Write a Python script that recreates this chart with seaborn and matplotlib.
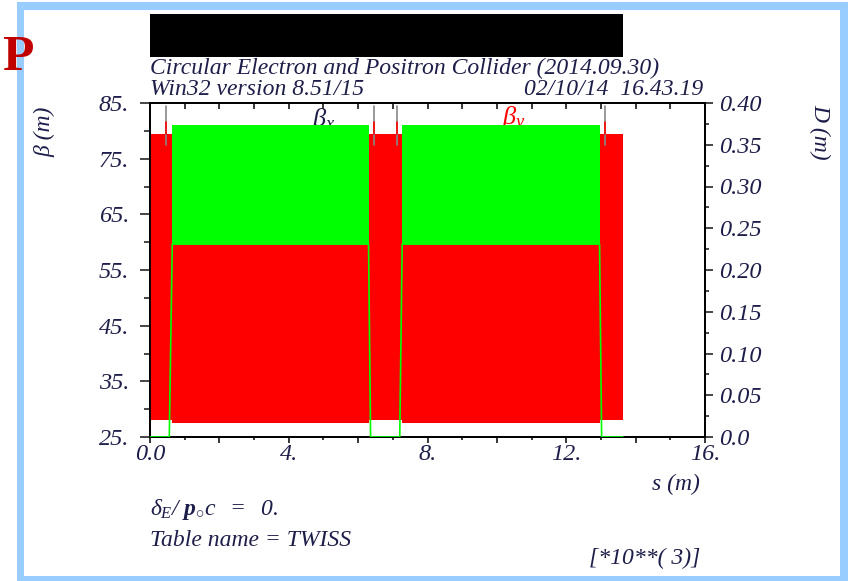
import matplotlib
matplotlib.use("Agg")
import matplotlib.pyplot as plt
import seaborn as sns
import pandas as pd
from matplotlib.patches import Rectangle

# ---------------- data (s in units of 10**3 m) ----------------
seg_start = [0.0, 0.634, 6.32, 7.26, 12.97]
seg_end = [0.634, 6.32, 7.26, 12.97, 13.63]
beta_min = [28.0, 27.5, 28.0, 27.5, 28.0]
beta_max = [79.4, 59.7, 79.4, 59.7, 79.4]
disp_min = [0.0, 0.22, 0.0, 0.22, 0.0]
disp_max = [0.0, 0.374, 0.0, 0.374, 0.0]
d_s = [0.0, 0.556, 0.642, 6.30, 6.36, 7.20, 7.27, 12.96, 13.02, 13.63]
d_val = [0.0, 0.0, 0.231, 0.231, 0.0, 0.0, 0.231, 0.231, 0.0, 0.0]
marker_s = [0.46, 6.45, 7.11, 13.13]
marker_top = [84.4, 84.4, 84.4, 84.4]
marker_bot = [77.5, 77.5, 77.5, 77.5]

beta_ticks = [85, 75, 65, 55, 45, 35, 25]
beta_labels = ["85.", "75.", "65.", "55.", "45.", "35.", "25."]
d_ticks = [0.40, 0.35, 0.30, 0.25, 0.20, 0.15, 0.10, 0.05, 0.0]
d_labels = ["0.40", "0.35", "0.30", "0.25", "0.20", "0.15", "0.10", "0.05", "0.0"]
s_ticks = [0, 2, 4, 6, 8, 10, 12, 14, 16]
s_labels = ["0.0", "", "4.", "", "8.", "", "12.", "", "16."]

W, H = 848, 581
TXT = "#1e1e4a"
RED = "#ff0000"
GREEN = "#00ff00"
FS = 17
TFS = 17.5

sns.set_style("ticks")
plt.rcParams["font.family"] = ["Liberation Serif", "DejaVu Serif"]
plt.rcParams["font.style"] = "italic"
plt.rcParams["mathtext.fontset"] = "custom"
plt.rcParams["mathtext.rm"] = "Liberation Serif:italic"
plt.rcParams["mathtext.it"] = "Liberation Serif:italic"
plt.rcParams["mathtext.bf"] = "Liberation Serif:italic:bold"

fig = plt.figure(figsize=(W / 100, H / 100), dpi=100)
fig.patch.set_facecolor("white")


def fx(x):
    return x / W


def fy(y):
    return 1 - y / H


ax = fig.add_axes([fx(150), fy(437), fx(705) - fx(150), fy(103) - fy(437)])
ax2 = ax.twinx()
ax.set_zorder(ax2.get_zorder() + 1)
ax.patch.set_visible(False)

# legend-like curve names, drawn below the green envelope
ax2.text(5.0, 80.9, r"$\mathrm{\beta}_x$", color=TXT, fontsize=19, ha="center",
         va="baseline", zorder=0.5, transform=ax.transData)
ax2.text(10.5, 80.9, r"$\mathrm{\beta}_y$", color=RED, fontsize=19, ha="center",
         va="baseline", zorder=0.5, transform=ax.transData)

# dispersion envelope (green) on the D axis
for a, b, lo, hi in zip(seg_start, seg_end, disp_min, disp_max):
    if hi > lo:
        ax2.fill_between([a, b], [lo, lo], [hi, hi], color=GREEN, lw=0, zorder=1)

# beta envelope (red)
for a, b, lo, hi in zip(seg_start, seg_end, beta_min, beta_max):
    ax.fill_between([a, b], [lo, lo], [hi, hi], color=RED, lw=0, zorder=2)

# dispersion line (transitions / straight sections)
dfd = pd.DataFrame({"s": d_s, "D": d_val})
sns.lineplot(data=dfd, x="s", y="D", ax=ax, color=GREEN, lw=1.2,
             transform=ax2.transData, zorder=3, sort=False)

# small markers at the top
for s, t, b in zip(marker_s, marker_top, marker_bot):
    ax.plot([s, s], [b, t], color="#888888", lw=1.2, zorder=4)
    ax.plot([s, s], [79.4, 81.5], color=RED, lw=1.2, zorder=5)

ax.set_xlim(0, 16)
ax.set_ylim(25, 85)
ax2.set_ylim(0, 0.40)
ax.set_xlabel("")
ax.set_ylabel("")

ax.set_yticks(beta_ticks)
ax.set_yticklabels(beta_labels)
ax.set_yticks([80, 70, 60, 50, 40, 30], minor=True)
ax.set_xticks(s_ticks)
ax.set_xticklabels(s_labels)
ax.set_xticks(list(range(0, 17)), minor=True)
ax2.set_yticks(d_ticks)
ax2.set_yticklabels(d_labels)
ax2.set_yticks([0.375, 0.325, 0.275, 0.225, 0.175, 0.125, 0.075, 0.025], minor=True)

for a in (ax, ax2):
    for sp in a.spines.values():
        sp.set_visible(True)
        sp.set_color("black")
        sp.set_linewidth(1.3)

ax.tick_params(axis="y", which="major", direction="out", length=7, width=1.2,
               pad=8, labelsize=TFS, labelcolor=TXT)
ax.tick_params(axis="y", which="minor", direction="out", length=4, width=1.2)
ax.tick_params(axis="x", which="major", direction="out", length=4, width=1.3,
               pad=1, labelsize=TFS, labelcolor=TXT)
ax.tick_params(axis="x", which="minor", direction="out", length=2, width=1.3)
ax2.tick_params(axis="y", which="major", direction="out", length=6, width=1.2,
                pad=4, labelsize=TFS, labelcolor=TXT)
ax2.tick_params(axis="y", which="minor", direction="out", length=3, width=1.2)

top = ax.secondary_xaxis("top")
top.set_xticks(list(range(0, 17)))
top.set_xticklabels([])
top.tick_params(direction="in", length=4, width=1.3)
top.spines["top"].set_linewidth(1.3)

# ---------------- figure decorations ----------------
border = "#99ccff"
for (x0, y0, x1, y1) in [(17, 2, 848, 10), (17, 2, 24, 581), (840, 2, 848, 581),
                         (17, 576, 848, 581)]:
    fig.patches.append(Rectangle((fx(x0), fy(y1)), fx(x1) - fx(x0), fy(y0) - fy(y1),
                                 transform=fig.transFigure, color=border, lw=0,
                                 zorder=0))
fig.patches.append(Rectangle((fx(150), fy(57)), fx(623) - fx(150), fy(14) - fy(57),
                             transform=fig.transFigure, color="black", lw=0, zorder=1))

fig.text(fx(2), fy(70), "P", fontsize=37, fontweight="bold", fontstyle="normal",
         color="#c00000", ha="left", va="baseline", zorder=5)

fig.text(fx(150), fy(74), "Circular Electron and Positron Collider (2014.09.30)",
         fontsize=FS, color=TXT, ha="left", va="baseline")
fig.text(fx(150), fy(95), "Win32 version 8.51/15", fontsize=FS, color=TXT,
         ha="left", va="baseline")
fig.text(fx(703), fy(95), "02/10/14  16.43.19", fontsize=FS, color=TXT,
         ha="right", va="baseline")

fig.text(fx(45), fy(132), "β (m)", fontsize=FS, color=TXT, rotation=90,
         ha="center", va="center")
fig.text(fx(820), fy(132), "D (m)", fontsize=FS, color=TXT, rotation=270,
         ha="center", va="center")
fig.text(fx(700), fy(490), "s (m)", fontsize=FS, color=TXT, ha="right",
         va="baseline")
fig.text(fx(150), fy(515), r"$\delta_E/\ \mathbf{p}_{\circ}c\ \ =\ \ 0.$",
         fontsize=FS, color=TXT, ha="left", va="baseline")
fig.text(fx(150), fy(546), "Table name = TWISS", fontsize=FS, color=TXT,
         ha="left", va="baseline")
fig.text(fx(700), fy(564), "[*10**( 3)]", fontsize=FS, color=TXT, ha="right",
         va="baseline")

fig.savefig("out.png", dpi=100, facecolor="white")
